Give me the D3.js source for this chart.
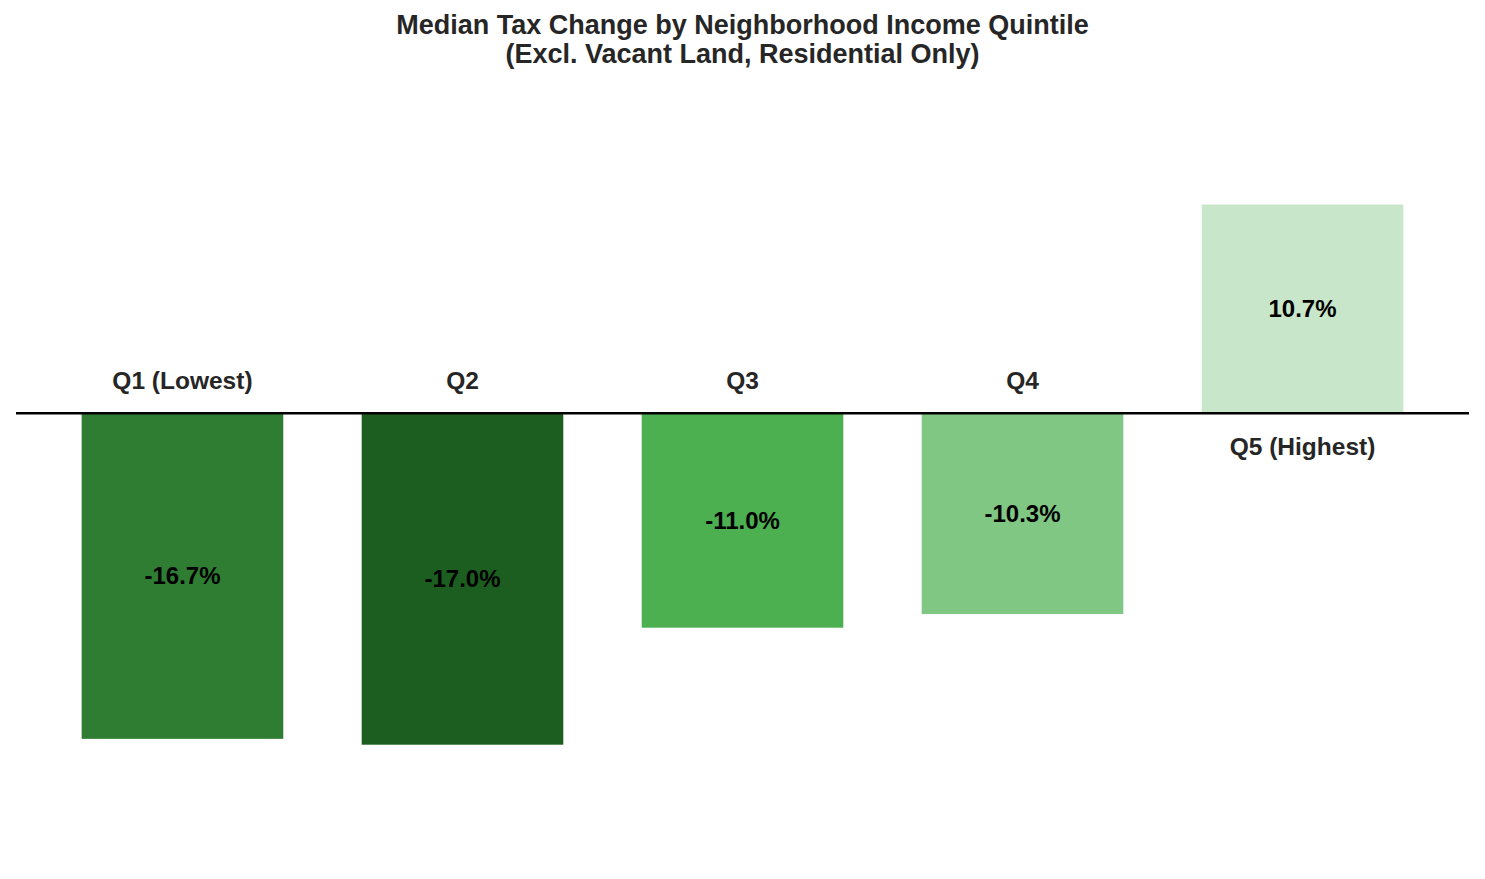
<!DOCTYPE html>
<html lang="en">

<head>
  <meta charset="UTF-8">
  <title>Median Tax Change by Neighborhood Income Quintile</title>
  <style>
    body { margin: 0; background: #fff; }
    text { font-family: "Liberation Sans", Arial, sans-serif; font-weight: bold; }
  </style>
</head>

<body>
  <script src="https://cdnjs.cloudflare.com/ajax/libs/d3/7.8.5/d3.min.js"></script>
  <script>
    let width = 1485
    let height = 879

    // data
    let categories = ['Q1 (Lowest)', 'Q2', 'Q3', 'Q4', 'Q5 (Highest)']
    let values = [-16.7, -17.0, -11.0, -10.3, 10.7]
    let colors = ['#2e7d32', '#1b5e20', '#4caf50', '#81c784', '#c8e6c9']
    let titleLines = ['Median Tax Change by Neighborhood Income Quintile', '(Excl. Vacant Land, Residential Only)']

    let svg = d3.select('body')
      .append('svg')
      .attr('width', width)
      .attr('height', height)

    let plot = { left: 16, right: 1469 }

    // x scale
    let xScale = d3.scaleBand()
      .domain(categories)
      .range([plot.left, plot.right])
      .paddingInner(0.28)
      .paddingOuter(0.2345)

    // y scale (zero at 413, about 19.5px per point)
    let yScale = d3.scaleLinear()
      .domain([-20.4, 16.05])
      .range([811, 100.2])

    // bars
    svg.selectAll('.bar')
      .data(values)
      .enter()
      .append('rect')
      .attr('class', 'bar')
      .attr('x', (d, i) => xScale(categories[i]))
      .attr('y', d => yScale(Math.max(0, d)))
      .attr('width', xScale.bandwidth())
      .attr('height', d => Math.abs(yScale(d) - yScale(0)))
      .attr('fill', (d, i) => colors[i])

    // zero line
    svg.append('line')
      .attr('x1', plot.left)
      .attr('x2', plot.right)
      .attr('y1', yScale(0))
      .attr('y2', yScale(0))
      .attr('stroke', '#000')
      .attr('stroke-width', 2.5)

    // value labels in middle of bar
    svg.selectAll('.val')
      .data(values)
      .enter()
      .append('text')
      .attr('class', 'val')
      .attr('x', (d, i) => xScale(categories[i]) + xScale.bandwidth() / 2)
      .attr('y', d => yScale(d / 2))
      .attr('dy', '0.35em')
      .attr('text-anchor', 'middle')
      .attr('font-size', 24)
      .attr('fill', '#000')
      .text(d => d.toFixed(1) + '%')

    // category labels on opposite side of zero
    svg.selectAll('.cat')
      .data(values)
      .enter()
      .append('text')
      .attr('class', 'cat')
      .attr('x', (d, i) => xScale(categories[i]) + xScale.bandwidth() / 2)
      .attr('y', d => d < 0 ? yScale(0) - 33 : yScale(0) + 33)
      .attr('dy', '0.35em')
      .attr('text-anchor', 'middle')
      .attr('font-size', 24.5)
      .attr('fill', '#262626')
      .text((d, i) => categories[i])

    // title
    svg.append('text')
      .attr('text-anchor', 'middle')
      .attr('font-size', 27)
      .attr('fill', '#262626')
      .selectAll('tspan')
      .data(titleLines)
      .enter()
      .append('tspan')
      .attr('x', width / 2)
      .attr('y', (d, i) => 34 + i * 28.5)
      .text(d => d)
  </script>
</body>

</html>
